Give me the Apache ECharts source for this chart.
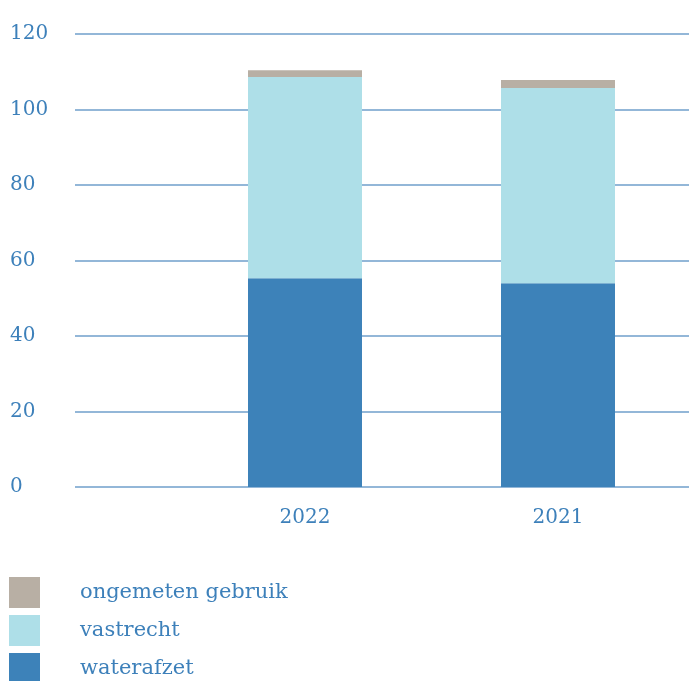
<!DOCTYPE html>
<html><head><meta charset="utf-8">
<script src="https://cdn.jsdelivr.net/npm/echarts@6/dist/echarts.min.js"></script>
<style>html,body{margin:0;padding:0;background:#fff}#c{width:689px;height:681px}</style>
</head><body><div id="c"></div>
<script>
const categories = ['2022', '2021'];
const waterafzet = [55.3, 54.0];
const vastrecht = [53.3, 51.7];
const ongemeten = [1.8, 2.1];
const yTicks = { min: 0, max: 120, interval: 20 };

const FONT = 'DejaVu Serif';
const TXT = '#3d80ba';
const chart = echarts.init(document.getElementById('c'));
chart.setOption({
  animation: false,
  textStyle: { fontFamily: FONT },
  grid: [
    { left: 75, right: 0, top: 34, bottom: 194 },
    { left: 178.5, right: 4.5, top: 34, bottom: 194 }
  ],
  xAxis: [
    { gridIndex: 0, type: 'category', data: [''], show: false },
    { gridIndex: 1, type: 'category', data: categories,
      axisLine: { show: false }, axisTick: { show: false },
      axisLabel: { color: TXT, fontSize: 20, margin: 21, fontFamily: FONT } }
  ],
  yAxis: [
    { gridIndex: 0, type: 'value', min: yTicks.min, max: yTicks.max, interval: yTicks.interval,
      axisLine: { show: false }, axisTick: { show: false },
      splitLine: { lineStyle: { color: '#6f9fcb', width: 1.5 } },
      axisLabel: { color: TXT, fontSize: 20, align: 'left', margin: 65, fontFamily: FONT,
        verticalAlign: 'middle', padding: [0, 0, 14, 0] } },
    { gridIndex: 1, type: 'value', min: yTicks.min, max: yTicks.max, interval: yTicks.interval, show: false,
      splitLine: { show: false } }
  ],
  legend: {
    orient: 'vertical', left: 4, top: 572, height: 110, itemWidth: 31, itemHeight: 31, itemGap: 7,
    icon: 'rect', selectedMode: false,
    data: ['ongemeten gebruik', 'vastrecht', 'waterafzet'],
    textStyle: { color: TXT, fontSize: 21, fontFamily: FONT, padding: [0, 0, 0, 35] }
  },
  series: [
    { name: 'waterafzet', type: 'bar', stack: 's', xAxisIndex: 1, yAxisIndex: 1, barWidth: 114,
      data: waterafzet, itemStyle: { color: '#3d82b9' } },
    { name: 'vastrecht', type: 'bar', stack: 's', xAxisIndex: 1, yAxisIndex: 1, barWidth: 114,
      data: vastrecht, itemStyle: { color: '#aedfe8' } },
    { name: 'ongemeten gebruik', type: 'bar', stack: 's', xAxisIndex: 1, yAxisIndex: 1, barWidth: 114,
      data: ongemeten, itemStyle: { color: '#b8afa4' } }
  ]
});
</script></body></html>
